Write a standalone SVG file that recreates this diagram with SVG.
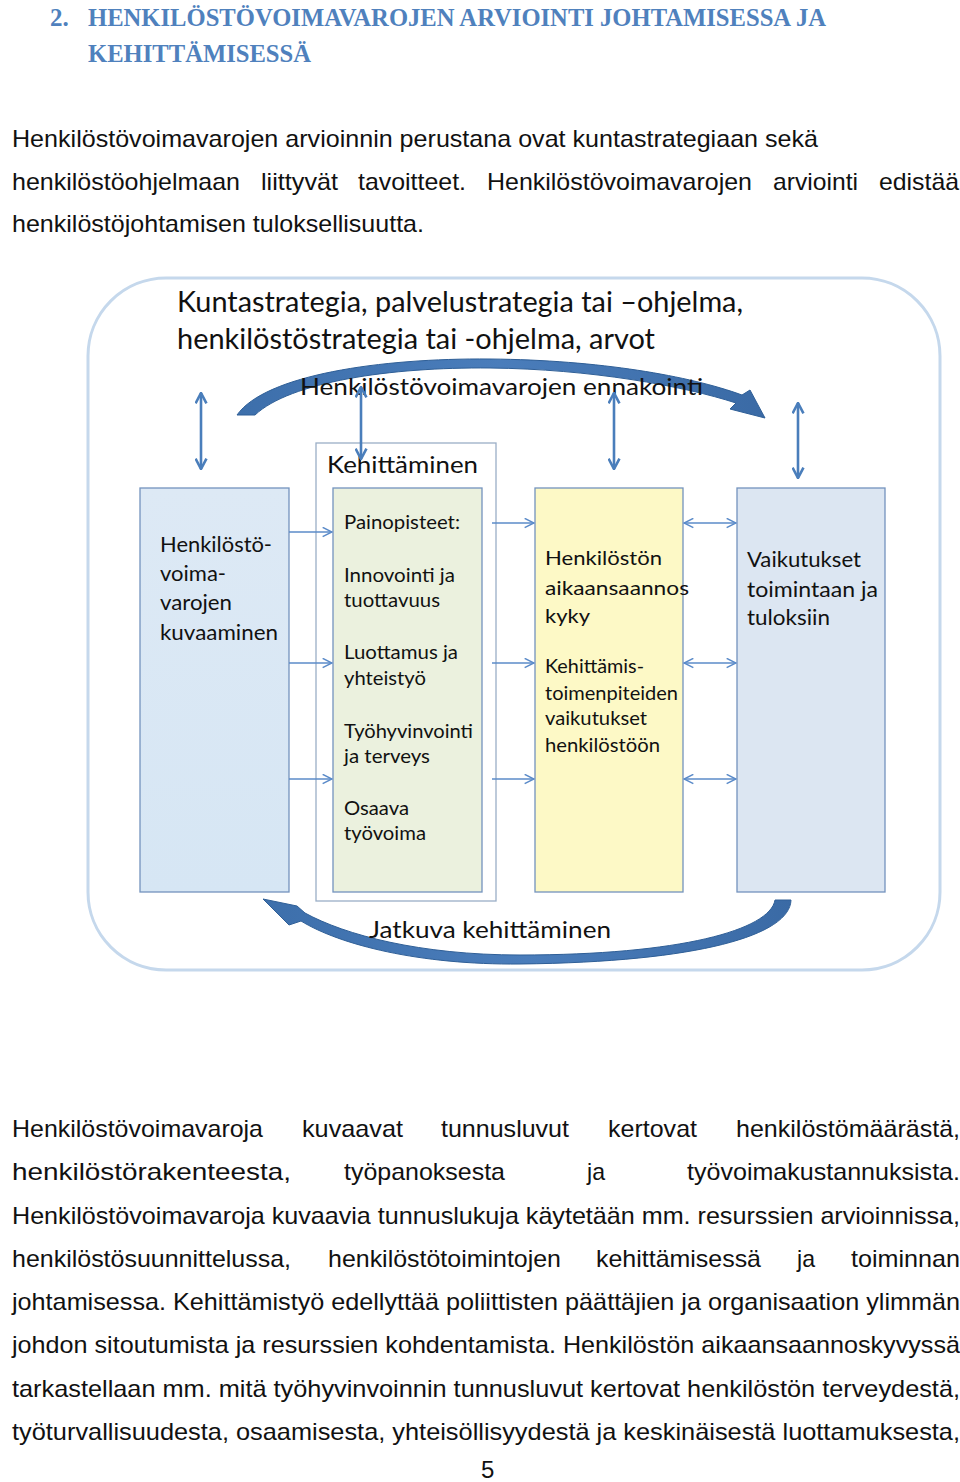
<svg xmlns="http://www.w3.org/2000/svg" width="960" height="1482" viewBox="0 0 960 1482">
<style>
.body{font-family:"Liberation Sans",Arial,sans-serif;font-size:24px;fill:#111}
.head{font-family:"Liberation Serif",serif;font-weight:bold;font-size:25px;fill:#4f81bd}
.cal{font-family:Lato,"Open Sans",sans-serif;fill:#111}
.bt{font-size:21px}
.box{stroke:#7393bd;stroke-width:1.3}
.va{stroke:#4a7ebb;stroke-width:2.6;fill:none}
.ha{stroke:#5b8bc9;stroke-width:1.5;fill:none}
.arc{fill:url(#ag);stroke:#2f5f97;stroke-width:1}
</style>
<defs>
<marker id="vh" viewBox="0 0 10 10" refX="9" refY="5" markerWidth="13" markerHeight="13" markerUnits="userSpaceOnUse" orient="auto-start-reverse"><path d="M1,0.8 L9,5 L1,9.2" fill="none" stroke="#4a7ebb" stroke-width="2"/></marker>
<marker id="hh" viewBox="0 0 10 10" refX="9.5" refY="5" markerWidth="11" markerHeight="11" markerUnits="userSpaceOnUse" orient="auto-start-reverse"><path d="M1,0.8 L9.5,5 L1,9.2" fill="none" stroke="#5b8bc9" stroke-width="1.4"/></marker>
<linearGradient id="g1" x1="0" y1="0" x2="0" y2="1"><stop offset="0" stop-color="#dde9f5"/><stop offset="1" stop-color="#d6e6f4"/></linearGradient>
<linearGradient id="ag" x1="0" y1="0" x2="1" y2="0"><stop offset="0" stop-color="#3d6fab"/><stop offset="0.5" stop-color="#4a7dbb"/><stop offset="1" stop-color="#3a6aa5"/></linearGradient>
</defs>

<g id="heading">
<text class="head" x="50" y="26">2.</text>
<text class="head" x="88" y="26" textLength="738" lengthAdjust="spacingAndGlyphs">HENKILÖSTÖVOIMAVAROJEN ARVIOINTI JOHTAMISESSA JA</text>
<text class="head" x="88" y="62" textLength="223" lengthAdjust="spacingAndGlyphs">KEHITTÄMISESSÄ</text>
</g>

<g id="para1">
<text class="body" x="12" y="147" textLength="806" lengthAdjust="spacingAndGlyphs">Henkilöstövoimavarojen arvioinnin perustana ovat kuntastrategiaan sekä</text>
<text class="body" x="12" y="190" textLength="228" lengthAdjust="spacingAndGlyphs">henkilöstöohjelmaan</text>
<text class="body" x="261" y="190" textLength="77" lengthAdjust="spacingAndGlyphs">liittyvät</text>
<text class="body" x="358" y="190" textLength="108" lengthAdjust="spacingAndGlyphs">tavoitteet.</text>
<text class="body" x="487" y="190" textLength="265" lengthAdjust="spacingAndGlyphs">Henkilöstövoimavarojen</text>
<text class="body" x="773" y="190" textLength="85" lengthAdjust="spacingAndGlyphs">arviointi</text>
<text class="body" x="879" y="190" textLength="80" lengthAdjust="spacingAndGlyphs">edistää</text>
<text class="body" x="12" y="232" textLength="412" lengthAdjust="spacingAndGlyphs">henkilöstöjohtamisen tuloksellisuutta.</text>
</g>

<g id="frame">
<rect x="88" y="278" width="852" height="692" rx="78" ry="78" fill="#ffffff" stroke="#c5d8ec" stroke-width="3"/>
</g>

<g id="title">
<text class="cal" x="177" y="312" font-size="28" textLength="566" lengthAdjust="spacingAndGlyphs">Kuntastrategia, palvelustrategia tai –ohjelma,</text>
<text class="cal" x="177" y="349" font-size="28" textLength="478" lengthAdjust="spacingAndGlyphs">henkilöstöstrategia tai -ohjelma, arvot</text>
</g>

<g id="ennakointi">
<path class="arc" d="M237,415 C265,375 380,358 490,359 C600,360 690,376 742,395 L750,390 L765,418 L730,409 L736,403 C684,386 590,369 490,368 C390,367 290,382 255,415 Z"/>
<text class="cal" x="300" y="395" font-size="23" textLength="403" lengthAdjust="spacingAndGlyphs">Henkilöstövoimavarojen ennakointi</text>
</g>

<g id="jatkuva">
<path class="arc" d="M791,900 C790,935 700,962 520,964 C420,965 340,945 301,921 L289,925 L263,899 L297,906 L305,913 C345,935 420,955 520,955 C680,955 770,930 775,900 Z"/>
<text class="cal" x="369" y="938" font-size="23" textLength="242" lengthAdjust="spacingAndGlyphs">Jatkuva kehittäminen</text>
</g>

<g id="kuvaaminen">
<rect class="box" x="140" y="488" width="149" height="404" fill="url(#g1)"/>
<g class="cal bt">
<text x="160" y="552" textLength="112" lengthAdjust="spacingAndGlyphs">Henkilöstö-</text>
<text x="160" y="581" textLength="66" lengthAdjust="spacingAndGlyphs">voima-</text>
<text x="160" y="610" textLength="72" lengthAdjust="spacingAndGlyphs">varojen</text>
<text x="160" y="640" textLength="118" lengthAdjust="spacingAndGlyphs">kuvaaminen</text>
</g>
</g>

<g id="kehittaminen">
<rect x="316" y="443" width="180" height="458" fill="#ffffff" stroke="#9aaec6" stroke-width="1.3"/>
<text class="cal" x="327" y="473" font-size="24" textLength="151" lengthAdjust="spacingAndGlyphs">Kehittäminen</text>
<rect class="box" x="333" y="488" width="149" height="404" fill="#ebf1de"/>
<g class="cal" font-size="19">
<text x="344" y="529" textLength="116" lengthAdjust="spacingAndGlyphs">Painopisteet:</text>
<text x="344" y="582" textLength="111" lengthAdjust="spacingAndGlyphs">Innovointi ja</text>
<text x="344" y="607" textLength="96" lengthAdjust="spacingAndGlyphs">tuottavuus</text>
<text x="344" y="659" textLength="114" lengthAdjust="spacingAndGlyphs">Luottamus ja</text>
<text x="344" y="685" textLength="82" lengthAdjust="spacingAndGlyphs">yhteistyö</text>
<text x="344" y="738" textLength="129" lengthAdjust="spacingAndGlyphs">Työhyvinvointi</text>
<text x="344" y="763" textLength="86" lengthAdjust="spacingAndGlyphs">ja terveys</text>
<text x="344" y="815" textLength="65" lengthAdjust="spacingAndGlyphs">Osaava</text>
<text x="344" y="840" textLength="82" lengthAdjust="spacingAndGlyphs">työvoima</text>
</g>
</g>

<g id="aikaansaannoskyky">
<rect class="box" x="535" y="488" width="148" height="404" fill="#fdf9c6"/>
<g class="cal" font-size="20">
<text x="545" y="565" textLength="117" lengthAdjust="spacingAndGlyphs">Henkilöstön</text>
<text x="545" y="595" textLength="144" lengthAdjust="spacingAndGlyphs">aikaansaannos</text>
<text x="545" y="623" textLength="45" lengthAdjust="spacingAndGlyphs">kyky</text>
<text x="545" y="673" textLength="99" lengthAdjust="spacingAndGlyphs">Kehittämis-</text>
<text x="545" y="700" textLength="133" lengthAdjust="spacingAndGlyphs">toimenpiteiden</text>
<text x="545" y="725" textLength="102" lengthAdjust="spacingAndGlyphs">vaikutukset</text>
<text x="545" y="752" textLength="115" lengthAdjust="spacingAndGlyphs">henkilöstöön</text>
</g>
</g>

<g id="vaikutukset">
<rect class="box" x="737" y="488" width="148" height="404" fill="#dce6f2"/>
<g class="cal" font-size="21">
<text x="747" y="567" textLength="114" lengthAdjust="spacingAndGlyphs">Vaikutukset</text>
<text x="747" y="597" textLength="131" lengthAdjust="spacingAndGlyphs">toimintaan ja</text>
<text x="747" y="625" textLength="83" lengthAdjust="spacingAndGlyphs">tuloksiin</text>
</g>
</g>

<g id="connectors">
<line class="va" x1="201" y1="393" x2="201" y2="469" marker-start="url(#vh)" marker-end="url(#vh)"/>
<line class="va" x1="361" y1="387" x2="361" y2="459" marker-start="url(#vh)" marker-end="url(#vh)"/>
<line class="va" x1="614" y1="393" x2="614" y2="469" marker-start="url(#vh)" marker-end="url(#vh)"/>
<line class="va" x1="798" y1="403" x2="798" y2="478" marker-start="url(#vh)" marker-end="url(#vh)"/>
<line class="ha" x1="289" y1="532" x2="332" y2="532" marker-end="url(#hh)"/>
<line class="ha" x1="289" y1="663" x2="332" y2="663" marker-end="url(#hh)"/>
<line class="ha" x1="289" y1="779" x2="332" y2="779" marker-end="url(#hh)"/>
<line class="ha" x1="492" y1="523" x2="534" y2="523" marker-end="url(#hh)"/>
<line class="ha" x1="492" y1="663" x2="534" y2="663" marker-end="url(#hh)"/>
<line class="ha" x1="492" y1="779" x2="534" y2="779" marker-end="url(#hh)"/>
<line class="ha" x1="684" y1="523" x2="736" y2="523" marker-start="url(#hh)" marker-end="url(#hh)"/>
<line class="ha" x1="684" y1="663" x2="736" y2="663" marker-start="url(#hh)" marker-end="url(#hh)"/>
<line class="ha" x1="684" y1="779" x2="736" y2="779" marker-start="url(#hh)" marker-end="url(#hh)"/>
</g>

<g id="para2">
<text class="body" x="12" y="1137" textLength="251" lengthAdjust="spacingAndGlyphs">Henkilöstövoimavaroja</text>
<text class="body" x="302" y="1137" textLength="101" lengthAdjust="spacingAndGlyphs">kuvaavat</text>
<text class="body" x="441" y="1137" textLength="128" lengthAdjust="spacingAndGlyphs">tunnusluvut</text>
<text class="body" x="608" y="1137" textLength="89" lengthAdjust="spacingAndGlyphs">kertovat</text>
<text class="body" x="736" y="1137" textLength="224" lengthAdjust="spacingAndGlyphs">henkilöstömäärästä,</text>
<text class="body" x="12" y="1180" textLength="279" lengthAdjust="spacingAndGlyphs">henkilöstörakenteesta,</text>
<text class="body" x="344" y="1180" textLength="161" lengthAdjust="spacingAndGlyphs">työpanoksesta</text>
<text class="body" x="587" y="1180" textLength="18" lengthAdjust="spacingAndGlyphs">ja</text>
<text class="body" x="687" y="1180" textLength="273" lengthAdjust="spacingAndGlyphs">työvoimakustannuksista.</text>
<text class="body" x="12" y="1224" textLength="948" lengthAdjust="spacingAndGlyphs">Henkilöstövoimavaroja kuvaavia tunnuslukuja käytetään mm. resurssien arvioinnissa,</text>
<text class="body" x="12" y="1267" textLength="279" lengthAdjust="spacingAndGlyphs">henkilöstösuunnittelussa,</text>
<text class="body" x="328" y="1267" textLength="233" lengthAdjust="spacingAndGlyphs">henkilöstötoimintojen</text>
<text class="body" x="596" y="1267" textLength="165" lengthAdjust="spacingAndGlyphs">kehittämisessä</text>
<text class="body" x="797" y="1267" textLength="18" lengthAdjust="spacingAndGlyphs">ja</text>
<text class="body" x="851" y="1267" textLength="109" lengthAdjust="spacingAndGlyphs">toiminnan</text>
<text class="body" x="12" y="1310" textLength="948" lengthAdjust="spacingAndGlyphs">johtamisessa. Kehittämistyö edellyttää poliittisten päättäjien ja organisaation ylimmän</text>
<text class="body" x="12" y="1353" textLength="948" lengthAdjust="spacingAndGlyphs">johdon sitoutumista ja resurssien kohdentamista. Henkilöstön aikaansaannoskyvyssä</text>
<text class="body" x="12" y="1397" textLength="948" lengthAdjust="spacingAndGlyphs">tarkastellaan mm. mitä työhyvinvoinnin tunnusluvut kertovat henkilöstön terveydestä,</text>
<text class="body" x="12" y="1440" textLength="948" lengthAdjust="spacingAndGlyphs">työturvallisuudesta, osaamisesta, yhteisöllisyydestä ja keskinäisestä luottamuksesta,</text>
<text class="body" x="481" y="1478">5</text>
</g>
</svg>
